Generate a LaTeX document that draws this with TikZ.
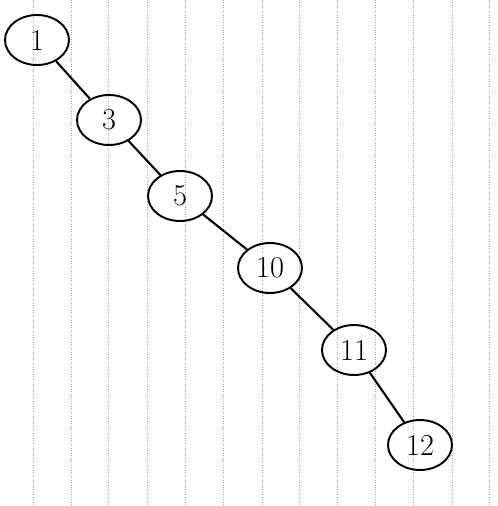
\documentclass[tikz,border=0pt]{standalone}
\usetikzlibrary{shapes.geometric}

\begin{document}
\begin{tikzpicture}[
  x=0.02cm, y=-0.02cm, thick,
  knot/.style={draw, ellipse, line width=1.1pt, minimum width=1.28cm, minimum height=1.0cm, inner sep=0pt, font=\LARGE},
  branch/.style={line width=1.2pt},
]

% Rahmen (Papiergroesse)
\useasboundingbox (0,0) rectangle (497,506);

% Karopapier: senkrechte gepunktete Linien
\foreach \gx in {33,71,108,147,185,223,262,299,337,375,413,452,489}
  \draw[gray!70, densely dotted, thin] (\gx,0) -- (\gx,506);

% Knoten der Kette
\node[knot] (n1)  at (37,40)   {1};
\node[knot] (n3)  at (109,120) {3};
\node[knot] (n5)  at (180,196) {5};
\node[knot] (n10) at (270,268) {10};
\node[knot] (n11) at (354,350) {11};
\node[knot] (n12) at (420,445) {12};

% Kanten
\draw[branch] (n1) -- (n3);
\draw[branch] (n3) -- (n5);
\draw[branch] (n5) -- (n10);
\draw[branch] (n10) -- (n11);
\draw[branch] (n11) -- (n12);

\end{tikzpicture}
\end{document}
